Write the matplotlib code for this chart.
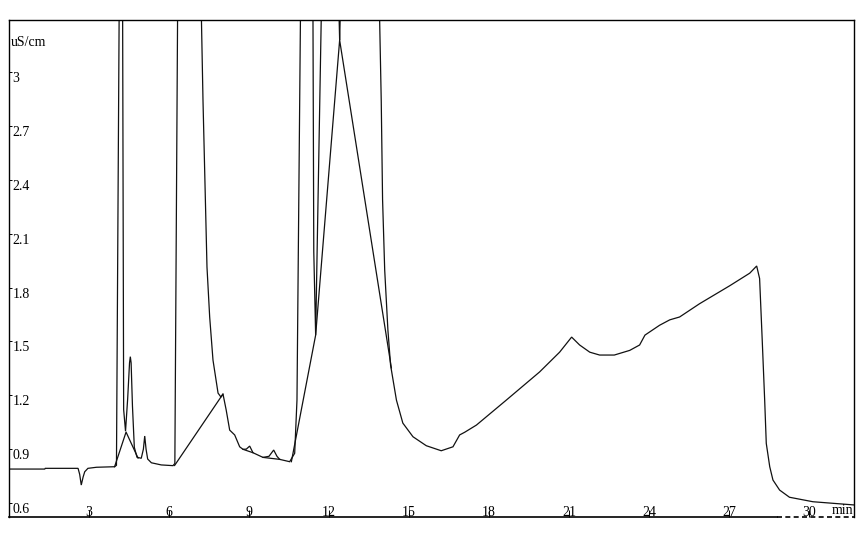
import matplotlib
matplotlib.use("Agg")
import matplotlib.pyplot as plt
import matplotlib.transforms as mtransforms

# ---- data ----
trace_t = [0.0, 1.34, 1.36, 2.59, 2.65, 2.71, 2.78, 2.84, 2.96, 3.28, 3.96, 4.03,
           4.13, 4.20, 4.26, 4.30, 4.37, 4.45, 4.52, 4.55, 4.58, 4.63, 4.70, 4.80,
           4.96, 5.04, 5.09, 5.14, 5.20, 5.34, 5.71, 6.15, 6.22, 6.33, 6.75, 7.19,
           7.275, 7.365, 7.425, 7.526, 7.65, 7.84, 7.95, 8.025, 8.145, 8.276, 8.464,
           8.651, 8.775, 8.90, 9.026, 9.15, 9.525, 9.75, 9.926, 10.05, 10.151, 10.526,
           10.714, 10.80, 10.93, 11.15, 11.40, 11.43, 11.50, 11.71, 12.0, 12.38, 12.40,
           12.42, 13.1, 13.90, 13.96, 14.01, 14.09, 14.21, 14.31, 14.53, 14.77, 15.15,
           15.65, 16.21, 16.65, 16.9, 17.09, 17.53, 18.65, 19.9, 20.65, 21.1, 21.4,
           21.78, 22.15, 22.7, 23.28, 23.65, 23.85, 24.4, 24.78, 25.15, 25.9, 27.03,
           27.78, 28.04, 28.15, 28.25, 28.34, 28.40, 28.53, 28.65, 28.9, 29.27, 30.15,
           31.7]
trace_y = [0.789, 0.789, 0.793, 0.793, 0.76, 0.700, 0.745, 0.774, 0.793, 0.799, 0.802, 0.81,
           3.30, 12.0, 3.40, 1.12, 1.00, 1.18, 1.38, 1.415, 1.38, 1.14, 0.91, 0.855,
           0.849, 0.90, 0.973, 0.90, 0.845, 0.824, 0.812, 0.808, 0.82, 3.50, 15.0, 3.50,
           2.844, 2.287, 1.914, 1.636, 1.396, 1.212, 1.19, 1.207, 1.118, 1.006, 0.979,
           0.913, 0.899, 0.90, 0.917, 0.880, 0.854, 0.86, 0.895, 0.86, 0.843, 0.830,
           0.877, 1.173, 3.30, 15.0, 3.30, 2.00, 1.535, 3.30, 15.0, 3.30, 3.178,
           3.30, 15.0, 3.29, 2.84, 2.29, 1.897, 1.563, 1.368, 1.173, 1.045, 0.969,
           0.919, 0.891, 0.913, 0.979, 0.994, 1.034, 1.173, 1.33, 1.44, 1.524, 1.48,
           1.44, 1.424, 1.424, 1.45, 1.48, 1.535, 1.59, 1.62, 1.636, 1.71, 1.81,
           1.88, 1.92, 1.85, 1.50, 1.173, 0.932, 0.802, 0.728, 0.672, 0.632, 0.607,
           0.589]

# integration baselines (straight segments)
base1_t = [3.96, 4.39, 4.84]
base1_y = [0.802, 0.995, 0.850]
base2_t = [6.21, 8.025]
base2_y = [0.809, 1.207]
base3_t = [10.59, 11.50, 12.40, 14.34]
base3_y = [0.830, 1.535, 3.178, 1.352]
base4_t = [8.775, 9.15]
base4_y = [0.899, 0.880]
base5_t = [9.525, 10.151]
base5_y = [0.854, 0.843]

xticks = [3, 6, 9, 12, 15, 18, 21, 24, 27, 30]
xtick_labels = ["3", "6", "9", "12", "15", "18", "21", "24", "27", "30"]
yticks = [0.6, 0.9, 1.2, 1.5, 1.8, 2.1, 2.4, 2.7, 3.0]
ytick_labels = ["0.6", "0.9", "1.2", "1.5", "1.8", "2.1", "2.4", "2.7", "3"]

# ---- figure ----
W, H = 867, 533
fig = plt.figure(figsize=(W / 100, H / 100), dpi=100)
L, R, T, B = 9, 854, 20, 517
ax = fig.add_axes([L / W, (H - B) / H, (R - L) / W, (B - T) / H])
ax.set_xlim(0, 31.69)
ax.set_ylim(0.522, 3.29)

font = dict(family="Liberation Serif", size=10, color="black")
lc = "#111111"
lw = 0.9
ax.plot(trace_t, trace_y, color=lc, lw=lw, solid_joinstyle="miter")
for bt, by in [(base1_t, base1_y), (base2_t, base2_y), (base3_t, base3_y),
               (base4_t, base4_y), (base5_t, base5_y)]:
    ax.plot(bt, by, color=lc, lw=lw)

# ticks
ax.set_xticks(xticks)
ax.set_yticks(yticks)
ax.set_xticklabels([])
ax.set_yticklabels([])
ax.tick_params(axis="x", direction="in", length=5, width=0.7, color="black")
ax.tick_params(axis="y", direction="in", length=2.5, width=0.7, color="black")

ytr = ax.get_yaxis_transform()
for v, s in zip(yticks, ytick_labels):
    ax.text(0.0042, v, s, transform=ytr, ha="left", va="top", **font)
xtr = ax.get_xaxis_transform() + mtransforms.ScaledTranslation(0, 1.5 / 100, fig.dpi_scale_trans)
for v, s in zip(xticks, xtick_labels):
    ax.text(v, 0.0, s, transform=xtr, ha="center", va="baseline", **font)

ax.text(0.002, 0.968, "uS/cm", transform=ax.transAxes, ha="left", va="top", **font)
mtr = ax.transAxes + mtransforms.ScaledTranslation(0, 2.5 / 100, fig.dpi_scale_trans)
ax.text(0.9995, 0.0, "min", transform=mtr, ha="right", va="baseline", **font)

# spines
for s in ["top", "left", "right"]:
    ax.spines[s].set_linewidth(1.0)
    ax.spines[s].set_color("black")
ax.spines["bottom"].set_visible(False)
split = (777 - L) / (R - L)
ax.plot([0, split], [0, 0], transform=ax.transAxes, color="black", lw=1.2, clip_on=False)
ax.plot([split, 1], [0, 0], transform=ax.transAxes, color="black", lw=1.2,
        ls=(0, (3, 2)), clip_on=False)

fig.savefig("out.png", dpi=100)
